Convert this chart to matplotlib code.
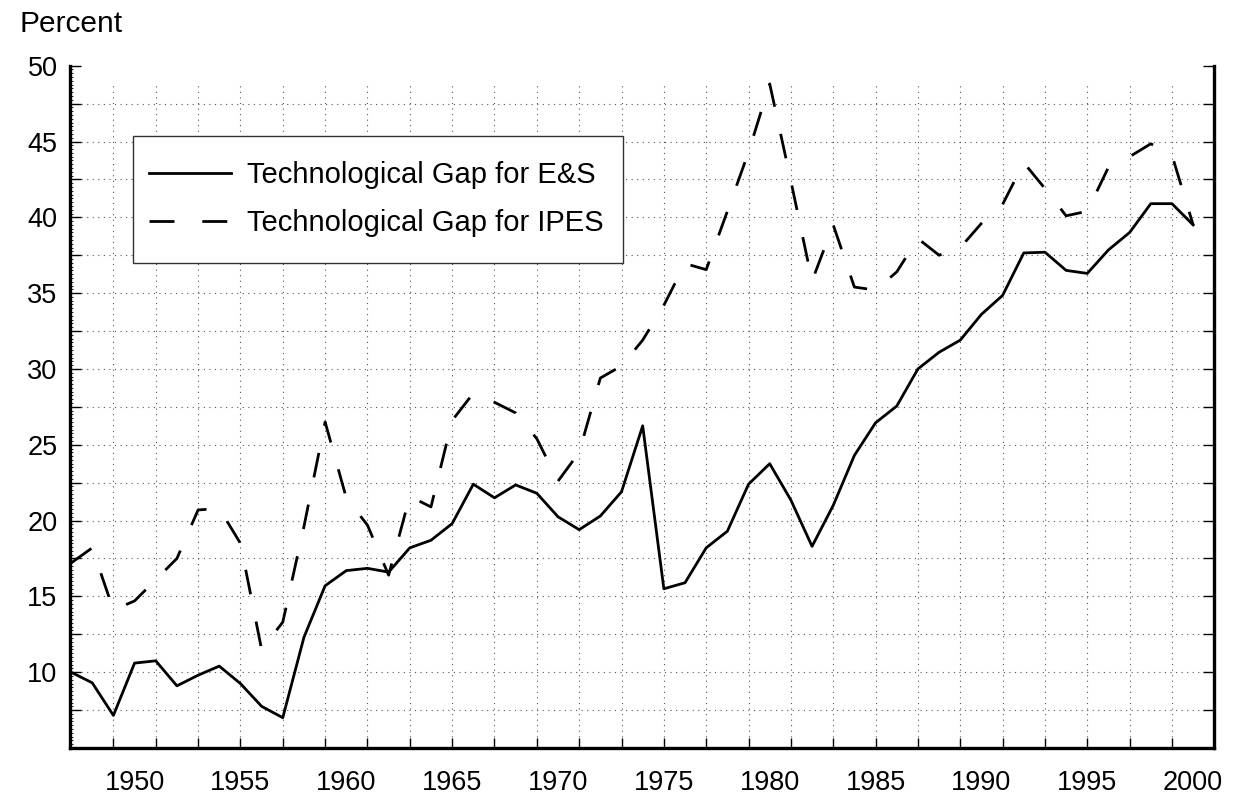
import numpy as np
import matplotlib
matplotlib.use("Agg")
import matplotlib.pyplot as plt
from matplotlib.patches import Rectangle

plt.rcParams['font.family'] = ['Liberation Sans', 'DejaVu Sans']

# data (percent)
years = np.arange(1947, 2001)
gap_es = [10.0, 9.3, 7.15, 10.6, 10.75, 9.1, 9.8, 10.4, 9.25, 7.75,
          7.0, 12.3, 15.7, 16.7, 16.85, 16.6, 18.2, 18.7, 19.8, 22.4,
          21.5, 22.35, 21.8, 20.25, 19.4, 20.3, 21.9, 26.25, 15.5, 15.9,
          18.2, 19.3, 22.4, 23.75, 21.35, 18.3, 21.0, 24.3, 26.45, 27.55,
          30.0, 31.1, 31.9, 33.6, 34.85, 37.65, 37.7, 36.5, 36.3, 37.85,
          39.0, 40.9, 40.9, 39.5]
gap_ipes = [17.2, 18.2, 14.1, 14.7, 16.1, 17.5, 20.7, 20.8, 18.5, 11.5,
            13.3, 19.6, 26.5, 21.5, 19.7, 16.4, 21.6, 20.9, 26.6, 28.4,
            27.8, 27.1, 25.4, 22.6, 24.5, 29.4, 30.2, 31.9, 34.2, 36.95,
            36.55, 40.4, 44.3, 48.8, 42.4, 35.8, 39.5, 35.4, 35.2, 36.4,
            38.6, 37.5, 38.0, 39.6, 40.85, 43.6, 41.9, 40.1, 40.4, 43.3,
            44.0, 44.85, 44.1, 39.5]
label_years = np.arange(1950, 2001, 5)
tick_years = np.arange(1949, 2000, 2)
y_ticks = np.arange(5, 50.1, 2.5)

W, H = 1241, 805
fig = plt.figure(figsize=(W / 100, H / 100), dpi=100)
ax = fig.add_axes([0.0564, 0.0708, 0.9221, 0.8476])

# dotted grid (stops short of the top like the original)
ax.hlines(y_ticks[1:-1], 1946.95, 2001.0, colors='#555555', linewidth=0.8,
          linestyles=(0, (1, 4)), zorder=0)
ax.vlines(tick_years, 5, 48.9, colors='#555555', linewidth=0.8,
          linestyles=(0, (1, 4)), zorder=0)

ax.plot(years, gap_es, color='black', lw=2.0, label='Technological Gap for E&S')
ax.plot(years, gap_ipes, color='black', lw=2.0, dashes=(9, 10),
        label='Technological Gap for IPES')

ax.set_xlim(1946.95, 2001.0)
ax.set_ylim(5, 50)

ax.spines['top'].set_visible(False)
for s in ['left', 'right', 'bottom']:
    ax.spines[s].set_linewidth(2.4)

# y axis: ticks every 2.5 on both sides, labels every 5
ax.set_yticks(y_ticks)
ax.set_yticklabels(['' if (v % 5 or v < 10) else f'{int(v)}' for v in y_ticks])
ax.set_yticks(np.arange(5, 50.01, 0.25), minor=True)
ax.tick_params(axis='y', which='major', direction='in', length=8, width=1,
               left=True, right=True, labelsize=19.5, pad=9)
ax.tick_params(axis='y', which='minor', direction='in', length=2, width=0.6,
               left=True, right=False)

# x axis: tick marks on odd years, labels every 5 years
ax.xaxis.remove_overlapping_locs = False
ax.set_xticks(tick_years)
ax.set_xticklabels([])
ax.set_xticks(label_years, minor=True)
ax.set_xticklabels([str(y) for y in label_years], minor=True)
ax.tick_params(axis='x', which='major', direction='in', length=7, width=1,
               top=False)
ax.tick_params(axis='x', which='minor', length=0, labelsize=19.5, pad=16,
               top=False)

fig.text(20 / W, 1 - 32 / H, 'Percent', fontsize=21.5, va='baseline')

# legend box drawn separately so its padding can match the original
ax.add_patch(Rectangle((132.7 / W, 1 - 263.3 / H), 490 / W, 127.3 / H,
                       transform=fig.transFigure, facecolor='white',
                       edgecolor='#333333', linewidth=1.0, zorder=5,
                       clip_on=False))
leg = ax.legend(loc='upper left', bbox_to_anchor=(149.3 / W, 1 - 161 / H),
                bbox_transform=fig.transFigure, borderaxespad=0, borderpad=0,
                fontsize=21, handlelength=2.8, handletextpad=0.55,
                labelspacing=0.68, frameon=False)
leg.set_zorder(6)

fig.savefig('out.png', dpi=100)
